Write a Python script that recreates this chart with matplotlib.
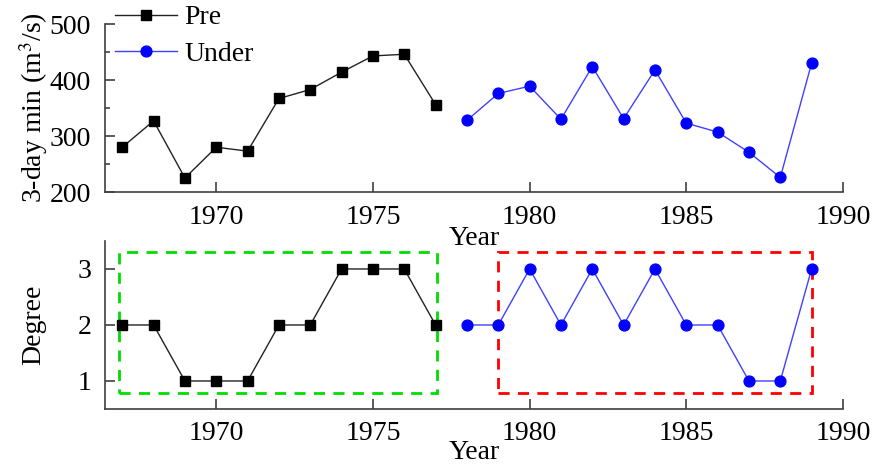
import matplotlib
matplotlib.use("Agg")
import matplotlib.pyplot as plt
from matplotlib.patches import Rectangle
from matplotlib.ticker import MultipleLocator

# datos
anios_pre = [1967, 1968, 1969, 1970, 1971, 1972, 1973, 1974, 1975, 1976, 1977]
anios_under = [1978, 1979, 1980, 1981, 1982, 1983, 1984, 1985, 1986, 1987, 1988, 1989]
min3_pre = [280, 327, 225, 280, 273, 367, 383, 414, 443, 446, 356]
min3_under = [328, 376, 389, 330, 424, 331, 418, 323, 307, 271, 226, 430]
grado_pre = [2, 2, 1, 1, 1, 2, 2, 3, 3, 3, 2]
grado_under = [2, 2, 3, 2, 3, 2, 3, 2, 2, 1, 1, 3]
xticks = [1970, 1975, 1980, 1985, 1990]

plt.rcParams["font.family"] = ["Liberation Serif", "DejaVu Serif"]
plt.rcParams["mathtext.fontset"] = "stix"
fs = 20

fig = plt.figure(figsize=(8.73, 4.68), dpi=100)
ax1 = fig.add_axes([0.1203, 0.5897, 0.8453, 0.359])
ax2 = fig.add_axes([0.1203, 0.1261, 0.8453, 0.359])
ax2.patch.set_visible(False)  # para que se vea el "Year" de arriba

for ax in (ax1, ax2):
    for s in ("top", "right"):
        ax.spines[s].set_visible(False)
    for s in ("left", "bottom"):
        ax.spines[s].set_color("#404040")
        ax.spines[s].set_linewidth(1.2)
    ax.set_xlim(1966.45, 1990)
    ax.set_xticks(xticks)
    ax.tick_params(direction="in", length=7, width=1.2, color="#404040",
                   labelsize=fs)
    ax.tick_params(axis="x", pad=9)
    ax.tick_params(axis="y", pad=10)
    ax.tick_params(which="minor", direction="in", length=3.5, width=1.2,
                   color="#404040")

# panel superior
ax1.plot(anios_pre, min3_pre, color="#222222", lw=1, marker="s", ms=7,
         mfc="black", mec="black", label="Pre")
ax1.plot(anios_under, min3_under, color="#4040ff", lw=1, marker="o", ms=7.8,
         mfc="#0000ff", mec="#0000ff", label="Under")
ax1.set_ylim(200, 500)
ax1.set_yticks([200, 300, 400, 500])
ax1.yaxis.set_minor_locator(MultipleLocator(50))
ax1.set_ylabel("3-day min (m$^3$/s)", fontsize=fs)
ax1.yaxis.set_label_coords(-0.074, 0.5)
ax1.set_xlabel("Year", fontsize=fs)
ax1.xaxis.set_label_coords(0.5, -0.2)
ax1.legend(loc="upper left", bbox_to_anchor=(0.013, 1.113), frameon=False,
           fontsize=fs, handlelength=2.25, handletextpad=0.25, labelspacing=0.4,
           borderaxespad=0, borderpad=0)

# panel inferior
ax2.plot(anios_pre, grado_pre, color="#222222", lw=1, marker="s", ms=7,
         mfc="black", mec="black")
ax2.plot(anios_under, grado_under, color="#4040ff", lw=1, marker="o", ms=7.8,
         mfc="#0000ff", mec="#0000ff")
ax2.set_ylim(0.5, 3.5)
ax2.set_yticks([1, 2, 3])
ax2.set_ylabel("Degree", fontsize=fs)
ax2.yaxis.set_label_coords(-0.08, 0.5)
ax2.set_xlabel("Year", fontsize=fs)
ax2.xaxis.set_label_coords(0.5, -0.185)

# recuadros punteados
ax2.add_patch(Rectangle((1966.9, 0.79), 1977.05 - 1966.9, 3.31 - 0.79,
                        fill=False, ec="#00dd00", lw=2, ls=(0, (4, 3))))
ax2.add_patch(Rectangle((1979.0, 0.79), 1989.0 - 1979.0, 3.31 - 0.79,
                        fill=False, ec="#ff0000", lw=2, ls=(0, (4, 3))))

fig.savefig("out.png", dpi=100)
